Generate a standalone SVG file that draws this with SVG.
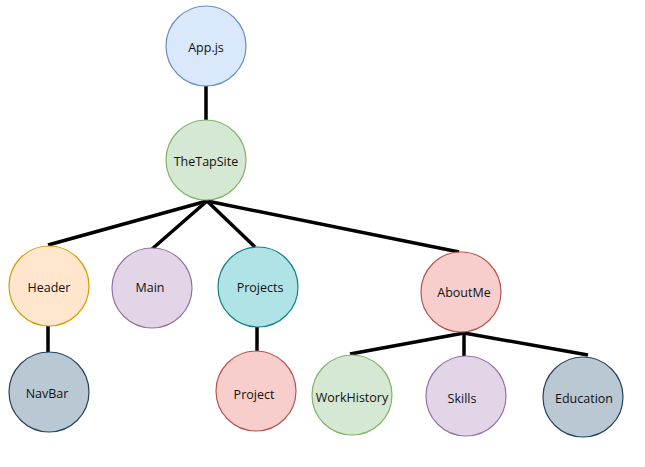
<svg xmlns="http://www.w3.org/2000/svg" width="645" height="467" viewBox="0 0 645 467">
<style>
  .n circle { stroke-width: 1.2; }
  .n text { font-family: "Open Sans", "Noto Sans", sans-serif; font-size: 12.5px; fill: #111; text-anchor: middle; dominant-baseline: central; }
  .blue { fill: #dae8fc; stroke: #6c8ebf; }
  .green { fill: #d5e8d4; stroke: #82b366; }
  .orange { fill: #ffe6cc; stroke: #d79b00; }
  .purple { fill: #e1d5e7; stroke: #9673a6; }
  .teal { fill: #b0e3e6; stroke: #0e8088; }
  .red { fill: #f8cecc; stroke: #b85450; }
  .gray { fill: #bac8d3; stroke: #23445d; }
  #connectors line { stroke: #000; stroke-width: 3.5; stroke-linecap: butt; }
</style>
<rect width="645" height="467" fill="#fff"/>
<g id="connectors">
  <line x1="206" y1="86" x2="206" y2="120"/>
  <line x1="207" y1="201" x2="48" y2="245"/>
  <line x1="207" y1="201" x2="152" y2="249"/>
  <line x1="207" y1="201" x2="255" y2="247"/>
  <line x1="207" y1="201" x2="459" y2="252"/>
  <line x1="48" y1="326" x2="48" y2="353"/>
  <line x1="257" y1="327" x2="257" y2="351"/>
  <line x1="464" y1="333" x2="350" y2="354"/>
  <line x1="464" y1="333" x2="464" y2="356"/>
  <line x1="464" y1="333" x2="588" y2="355"/>
</g>
<g id="appjs" class="n"><circle class="blue" cx="206" cy="46" r="40"/><text x="206" y="47">App.js</text></g>
<g id="thetapsite" class="n"><circle class="green" cx="206" cy="160" r="40"/><text x="206" y="161">TheTapSite</text></g>
<g id="header" class="n"><circle class="orange" cx="49" cy="286" r="40"/><text x="49" y="287">Header</text></g>
<g id="main" class="n"><circle class="purple" cx="152" cy="288" r="40"/><text x="150" y="287">Main</text></g>
<g id="projects" class="n"><circle class="teal" cx="258" cy="287" r="40"/><text x="260" y="287">Projects</text></g>
<g id="aboutme" class="n"><circle class="red" cx="461" cy="292" r="40"/><text x="464" y="292">AboutMe</text></g>
<g id="navbar" class="n"><circle class="gray" cx="49" cy="392" r="40"/><text x="47" y="393">NavBar</text></g>
<g id="project" class="n"><circle class="red" cx="256" cy="391" r="40"/><text x="254" y="394">Project</text></g>
<g id="workhistory" class="n"><circle class="green" cx="352" cy="395" r="40"/><text x="352" y="397">WorkHistory</text></g>
<g id="skills" class="n"><circle class="purple" cx="466" cy="396" r="40"/><text x="462" y="398">Skills</text></g>
<g id="education" class="n"><circle class="gray" cx="583" cy="397" r="40"/><text x="584" y="398">Education</text></g>
</svg>
